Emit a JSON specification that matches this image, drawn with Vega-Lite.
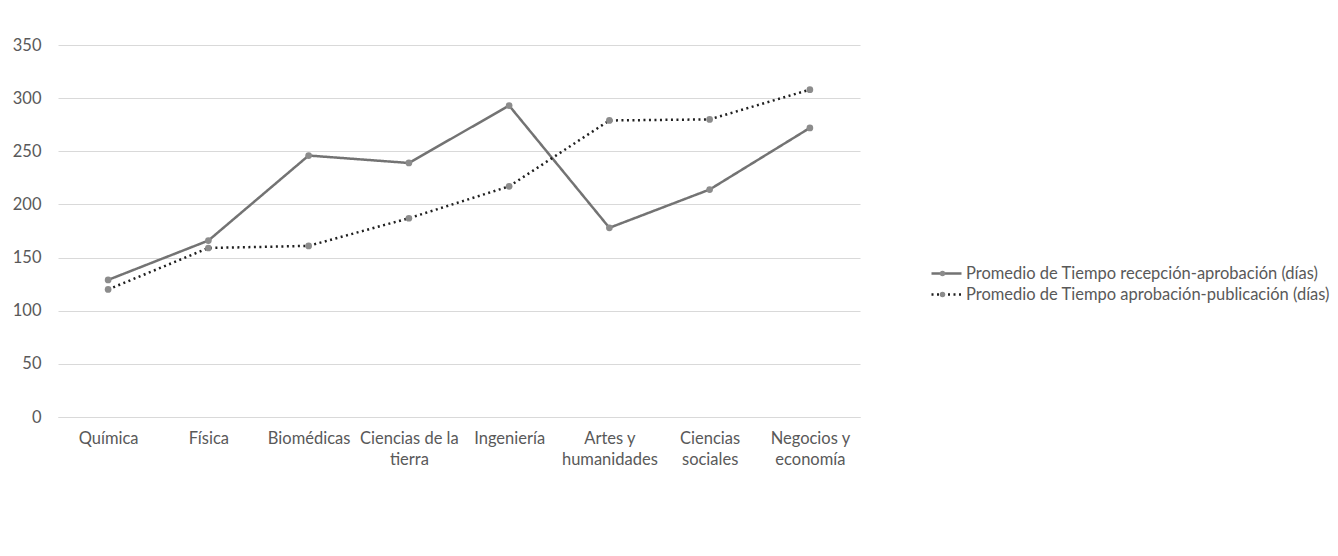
{
  "$schema": "https://vega.github.io/schema/vega-lite/v6.json",
  "autosize": {"type": "none"},
  "padding": {"left": 58, "top": 45, "right": 478, "bottom": 139},
  "width": 802,
  "height": 372,
  "background": "white",
  "config": {
    "font": "Lato",
    "view": {"stroke": null},
    "axis": {"labelFont": "Lato", "labelFontSize": 16.5, "labelColor": "#595959", "titleColor": "#595959"},
    "legend": {"labelFont": "Lato", "labelFontSize": 16.5, "labelColor": "#595959", "labelLimit": 0}
  },
  "data": {
    "values": [
      {"area": "Química", "serie": "Promedio de Tiempo recepción-aprobación (días)", "dias": 129},
      {"area": "Física", "serie": "Promedio de Tiempo recepción-aprobación (días)", "dias": 166},
      {"area": "Biomédicas", "serie": "Promedio de Tiempo recepción-aprobación (días)", "dias": 246},
      {"area": "Ciencias de la tierra", "serie": "Promedio de Tiempo recepción-aprobación (días)", "dias": 239},
      {"area": "Ingeniería", "serie": "Promedio de Tiempo recepción-aprobación (días)", "dias": 293},
      {"area": "Artes y humanidades", "serie": "Promedio de Tiempo recepción-aprobación (días)", "dias": 178},
      {"area": "Ciencias sociales", "serie": "Promedio de Tiempo recepción-aprobación (días)", "dias": 214},
      {"area": "Negocios y economía", "serie": "Promedio de Tiempo recepción-aprobación (días)", "dias": 272},
      {"area": "Química", "serie": "Promedio de Tiempo aprobación-publicación (días)", "dias": 120},
      {"area": "Física", "serie": "Promedio de Tiempo aprobación-publicación (días)", "dias": 159},
      {"area": "Biomédicas", "serie": "Promedio de Tiempo aprobación-publicación (días)", "dias": 161},
      {"area": "Ciencias de la tierra", "serie": "Promedio de Tiempo aprobación-publicación (días)", "dias": 187},
      {"area": "Ingeniería", "serie": "Promedio de Tiempo aprobación-publicación (días)", "dias": 217},
      {"area": "Artes y humanidades", "serie": "Promedio de Tiempo aprobación-publicación (días)", "dias": 279},
      {"area": "Ciencias sociales", "serie": "Promedio de Tiempo aprobación-publicación (días)", "dias": 280},
      {"area": "Negocios y economía", "serie": "Promedio de Tiempo aprobación-publicación (días)", "dias": 308}
    ]
  },
  "encoding": {
    "x": {
      "field": "area", "type": "nominal", "sort": null, "title": null,
      "scale": {"type": "point", "padding": 0.5},
      "axis": {
        "labelAngle": 0, "domain": true, "domainColor": "#d9d9d9", "ticks": false, "tickSize": 0,
        "labelPadding": 13, "labelLineHeight": 21, "labelBaseline": "top",
        "labelExpr": "datum.value == 'Ciencias de la tierra' ? ['Ciencias de la', 'tierra'] : datum.value == 'Artes y humanidades' ? ['Artes y', 'humanidades'] : datum.value == 'Ciencias sociales' ? ['Ciencias', 'sociales'] : datum.value == 'Negocios y economía' ? ['Negocios y', 'economía'] : datum.value"
      }
    },
    "y": {
      "field": "dias", "type": "quantitative", "title": null,
      "scale": {"domain": [0, 350], "nice": false},
      "axis": {"values": [0, 50, 100, 150, 200, 250, 300, 350], "domain": false, "ticks": false, "tickSize": 0, "labelPadding": 17, "grid": true, "gridColor": "#d9d9d9", "gridWidth": 1}
    }
  },
  "layer": [
    {
      "mark": {"type": "line", "strokeWidth": 2.5},
      "encoding": {
        "color": {
          "field": "serie", "type": "nominal", "sort": null,
          "scale": {"domain": ["Promedio de Tiempo recepción-aprobación (días)", "Promedio de Tiempo aprobación-publicación (días)"], "range": ["#737373", "#1f1f1f"]},
          "legend": {"title": null, "orient": "none", "legendX": 872, "legendY": 218, "symbolType": "stroke", "symbolSize": 900, "symbolStrokeWidth": 2.5, "rowPadding": 0, "clipHeight": 21, "labelOffset": 3}
        },
        "strokeDash": {
          "field": "serie", "type": "nominal", "sort": null,
          "scale": {"domain": ["Promedio de Tiempo recepción-aprobación (días)", "Promedio de Tiempo aprobación-publicación (días)"], "range": [[1, 0], [2, 3.5]]},
          "legend": {"title": null, "orient": "none", "legendX": 872, "legendY": 218, "symbolType": "stroke", "symbolSize": 900, "symbolStrokeWidth": 2.5, "rowPadding": 0, "clipHeight": 21, "labelOffset": 3}
        }
      }
    },
    {
      "mark": {"type": "point", "filled": true, "size": 45, "color": "#8c8c8c", "opacity": 1},
      "encoding": {
        "shape": {
          "field": "serie", "type": "nominal", "sort": null,
          "scale": {"domain": ["Promedio de Tiempo recepción-aprobación (días)", "Promedio de Tiempo aprobación-publicación (días)"], "range": ["circle", "circle"]},
          "legend": {"title": "", "orient": "none", "legendX": 881, "legendY": 218, "symbolSize": 30, "symbolFillColor": "#8c8c8c", "symbolStrokeColor": "#8c8c8c", "symbolOpacity": 1, "rowPadding": 0, "labelColor": "transparent", "labelFontSize": 1, "labelLimit": 1, "clipHeight": 21}
        }
      }
    }
  ],
  "resolve": {"scale": {"shape": "independent"}, "legend": {"shape": "independent"}}
}
